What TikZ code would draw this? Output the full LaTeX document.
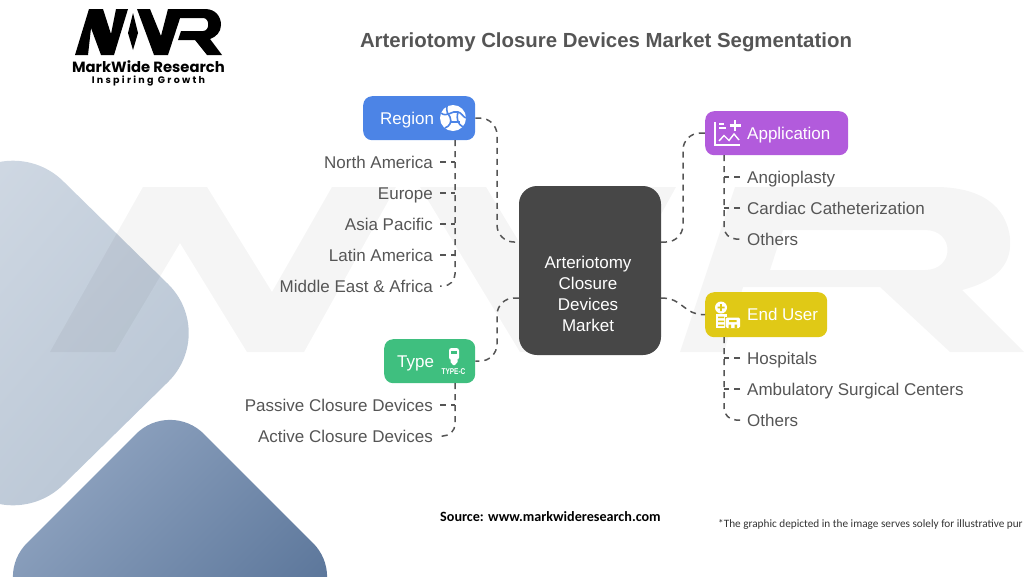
\documentclass[tikz,border=0pt]{standalone}
\usepackage{fontspec}
\setmainfont{Liberation Sans}
\newfontfamily\carlito{Carlito}
\newfontfamily\pop{Poppins}
\usetikzlibrary{calc}
\definecolor{txt}{HTML}{555555}
\definecolor{conn}{HTML}{555555}
\definecolor{cblue}{HTML}{4C84E6}
\definecolor{cpurple}{HTML}{B25BDC}
\definecolor{cgreen}{HTML}{3FBF7F}
\definecolor{cyellow}{HTML}{E0C916}
\definecolor{cdark}{HTML}{474747}
\tikzset{
 x=1pt,y=-1pt,
 catbox/.style={rounded corners=9pt,inner sep=0pt,minimum height=#1,text=white,font=\fontsize{17}{20}\selectfont,anchor=north west,text height=16pt,text depth=4pt},
 link/.style={draw=conn,line width=1.5pt,dash pattern=on 6pt off 5pt},
 itemr/.style={anchor=east,inner ysep=0pt,inner xsep=7pt,text=txt,font=\fontsize{17}{20}\selectfont,text height=16pt,text depth=4pt},
 iteml/.style={anchor=west,inner ysep=0pt,inner xsep=7pt,text=txt,font=\fontsize{17}{20}\selectfont,text height=16pt,text depth=4pt},
 icon/.style={white,line width=1.5pt},
}
\begin{document}
\begin{tikzpicture}
\useasboundingbox (0,0) rectangle (1024,576);
\begin{scope}
\clip (0,0) rectangle (1024,576);
% background diamonds
\path[rounded corners=70pt,shade,left color={rgb,255:red,212;green,220;blue,230},right color={rgb,255:red,184;green,197;blue,212},shading angle=50]
 (13,132) -- (218,333) -- (13,534) -- (-192,333) -- cycle;
\path[rounded corners=48pt,shade,left color={rgb,255:red,146;green,166;blue,194},right color={rgb,255:red,80;green,108;blue,146},shading angle=45]
 (170,400) -- (347,577) -- (170,754) -- (-7,577) -- cycle;
% watermark
\fill[black,opacity=.04,even odd rule]
 (50,352) -- (143,187) -- (207,187) -- (272,292) -- (332,187) -- (396,187) -- (304,352) -- (247,352) -- (180,243) -- (115,352) -- cycle
 (420,187) -- (486,187) -- (548,290) -- (610,187) -- (676,187) -- (585,352) -- (520,352) -- cycle
 (680,352) -- (735,187) -- (935,187) .. controls (980,187) and (1006,205) .. (1010,238) .. controls (1012,262) and (1000,280) .. (962,290) -- (1024,352) -- (950,352) -- (880,287) -- (743,287) -- (724,352) -- cycle
 (783,230) -- (925,230) .. controls (955,230) and (955,270) .. (925,270) -- (770,270) -- cycle;
\end{scope}
% logo
\fill[black]
 (75,55) -- (89,9) -- (103,9) -- (111,34) -- (116,9) -- (128,9) -- (114,55) -- (101,55) -- (91,28) -- (88,55) -- cycle
 (133,13) -- (138,33) -- (133,50) -- (128,33) -- cycle
 (137,9) -- (150,9) -- (161,36) -- (168,9) -- (183,9) -- (168,55) -- (154,55) -- cycle
 (183,9) -- (205,9) .. controls (216,9) and (221,17) .. (221,25) .. controls (221,32) and (216,37) .. (210,39) -- (222,55) -- (207,55) -- (195,40) -- (178,40) -- (181,31) -- (203,31) .. controls (210,31) and (210,18) .. (203,18) -- (180,18) -- cycle;
\node[inner sep=0pt,font=\pop\bfseries\fontsize{14.8}{16}\selectfont] (logoname) at (148.5,67) {MarkWide Research};
\node[inner sep=0pt,font=\pop\bfseries\fontsize{9.5}{10}\selectfont\addfontfeature{LetterSpace=24}] (logotag) at (148.5,80.5) {Inspiring Growth};
% title
\node[inner sep=0pt,text=txt,font=\bfseries\fontsize{20.4}{24}\selectfont] (title) at (606,42.5) {Arteriotomy Closure Devices Market Segmentation};
% center
\node[fill=cdark,rounded corners=18pt,minimum width=142pt,minimum height=169pt,inner sep=0pt] (center) at (590,270.5) {};
\node[inner sep=0pt,text=white,align=center,font=\fontsize{17}{20.8}\selectfont] (centerlabel) at (588,294) {Arteriotomy\\Closure\\Devices\\Market};
% categories
\node[catbox=44pt,fill=cblue] (region) at (363,96) {\makebox[112pt][l]{\hspace*{17pt}Region}};
\node[catbox=44pt,fill=cpurple] (application) at (705,111) {\makebox[143pt][l]{\hspace*{42pt}Application}};
\node[catbox=45pt,fill=cyellow] (enduser) at (705,292) {\makebox[122pt][l]{\hspace*{42pt}End User}};
\node[catbox=44pt,fill=cgreen] (type) at (384,339) {\makebox[91pt][l]{\hspace*{13pt}Type}};
% items
\node[itemr] (na) at (440,162) {North America};
\node[itemr] (eu) at (440,193) {Europe};
\node[itemr] (ap) at (440,224) {Asia Pacific};
\node[itemr] (la) at (440,255) {Latin America};
\node[itemr] (me) at (440,286) {Middle East \& Africa};
\node[itemr] (pc) at (440,405) {Passive Closure Devices};
\node[itemr] (ac) at (440,436) {Active Closure Devices};
\node[iteml] (an) at (740,177) {Angioplasty};
\node[iteml] (cc) at (740,208) {Cardiac Catheterization};
\node[iteml] (o1) at (740,239) {Others};
\node[iteml] (ho) at (740,358) {Hospitals};
\node[iteml] (as) at (740,389) {Ambulatory Surgical Centers};
\node[iteml] (o2) at (740,420) {Others};
% anchors
\coordinate (rs) at (455,140);
\coordinate (ts) at (455,383);
\coordinate (as0) at (724,155);
\coordinate (es) at (724,337);
\coordinate (cw1) at (519,242);
\coordinate (cw2) at (519,298);
\coordinate (ce1) at (661,242);
\coordinate (ce2) at (661,298);
% main links
\draw[link,rounded corners=17pt] (region.east) -- (497,118) -- (497,242) -- (cw1);
\draw[link,rounded corners=17pt] (cw2) -- (497,298) -- (497,361) -- (type.east);
\draw[link,rounded corners=17pt] (ce1) -- (683,242) -- (683,133) -- (application.west);
\draw[link] (ce2) .. controls (684,298) and (682,314.5) .. (enduser.west);
% spines
\draw[link,rounded corners=12pt] (rs) |- (me.east);
\draw[link,rounded corners=12pt] (ts) |- (ac.east);
\draw[link,rounded corners=12pt] (as0) |- (o1.west);
\draw[link,rounded corners=12pt] (es) |- (o2.west);
\foreach \n in {na,eu,ap,la} \draw[link] (\n.east) -- (\n.east -| rs);
\draw[link] (pc.east) -- (pc.east -| ts);
\foreach \n in {an,cc} \draw[link] (\n.west) -- (\n.west -| as0);
\foreach \n in {ho,as} \draw[link] (\n.west) -- (\n.west -| es);
% globe icon
\fill[white] (453,118) circle (13);
\draw[cblue,line width=1.6pt] (441,113) .. controls (447,118) and (452,110) .. (458,112) .. controls (462,113) and (463,117) .. (466,118);
\draw[cblue,line width=1.6pt] (447,106) .. controls (446,112) and (448,114) .. (450,117) .. controls (452,122) and (450,126) .. (445,128);
\draw[cblue,line width=1.6pt] (458,112) .. controls (456,120) and (458,124) .. (463,127);
\draw[cblue,line width=1.6pt] (450,122) -- (460,122);
% application icon
\draw[icon] (715,122) -- (715,145) -- (740,145);
\draw[icon,line width=1.2pt] (719,124) -- (724,124) (719,128) -- (726,128);
\draw[icon,line width=2.8pt] (735,120) -- (735,131) (729.5,125.5) -- (740.5,125.5);
\draw[icon,line width=1.4pt] (719,141) -- (724,135.5) -- (729,140.5) -- (734,134) -- (739,140);
% end user icon
\fill[white] (716,314) rectangle (727,328);
\fill[white] (721,307.5) circle (6);
\fill[cyellow] (720.1,304) rectangle (721.9,311) (717.5,306.6) rectangle (724.5,308.4);
\fill[cyellow] (718,316.5) rectangle (724,318) (718,320.5) rectangle (724,322) (718,324.5) rectangle (724,326);
\fill[cyellow] (724.5,316.5) rectangle (741,329);
\fill[white,rounded corners=1.5pt] (725.5,317.5) rectangle (740,328);
\fill[cyellow] (729,320) rectangle (736.5,322) (728.5,324.5) rectangle (731,328) (734.5,324.5) rectangle (737,328);
% type icon
\fill[white,rounded corners=2.5pt] (449,348) rectangle (459,360);
\fill[white] (450.5,360) -- (457.5,360) -- (457.5,362) -- (455,365) -- (453,365) -- (450.5,362) -- cycle;
\fill[cgreen] (451,350.5) rectangle (457,353.5);
\node[inner sep=0pt,text=white,font=\bfseries\fontsize{6.5}{7}\selectfont,yscale=1.3] (typec) at (453.5,371.5) {TYPE-C};
% footer
\node[inner sep=0pt,anchor=west,font=\carlito\bfseries\fontsize{14.15}{16}\selectfont] (src) at (440,517) {Source: www.markwideresearch.com};
\node[inner sep=0pt,anchor=west,text=black!80,font=\carlito\fontsize{11.25}{13}\selectfont] (note) at (718,524) {*The graphic depicted in the image serves solely for illustrative pur};
\end{tikzpicture}
\end{document}
